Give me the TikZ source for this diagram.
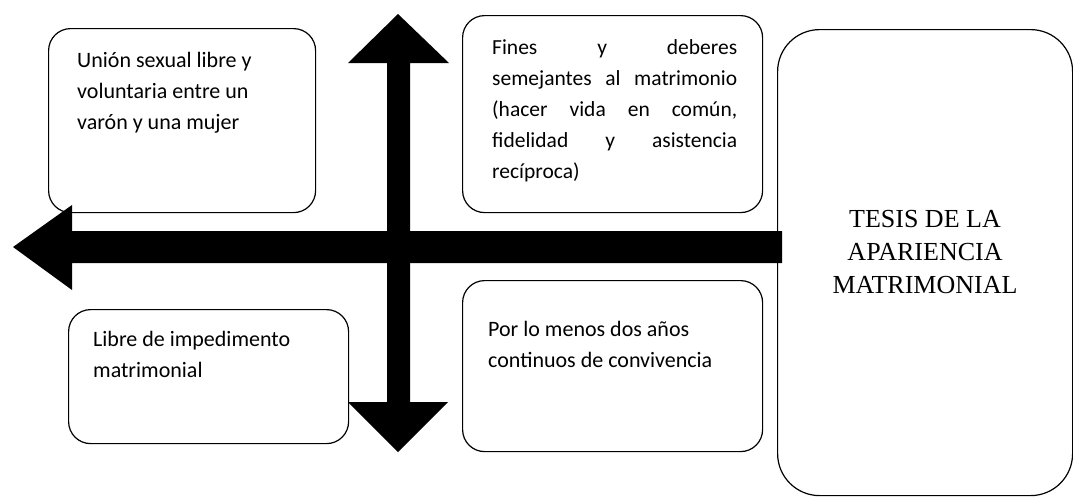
\documentclass[tikz,border=0pt]{standalone}
\usepackage{fontspec}
\setmainfont{Carlito}
\newfontfamily\tesisfont{Liberation Serif}
\usetikzlibrary{positioning}

\tikzset{
  caja/.style={draw, line width=1.2pt, rounded corners=22pt, inner sep=0pt, anchor=north west},
  texto/.style={inner sep=0pt, align=left, font=\fontsize{22}{31}\selectfont},
}

\begin{document}
\begin{tikzpicture}[x=1pt,y=-1pt]
  \useasboundingbox (0,0) rectangle (1073,496);
  % cajas
  \node[caja, minimum width=267pt, minimum height=184pt] (union) at (48,28) {};
  \node[caja, minimum width=280pt, minimum height=134pt] (libre) at (68,309) {};
  \node[caja, minimum width=300pt, minimum height=197pt] (fines) at (462,15) {};
  \node[caja, minimum width=300pt, minimum height=171pt] (convivencia) at (462,280) {};
  \node[caja, rounded corners=42pt, minimum width=295pt, minimum height=466pt] (tesis) at (777,29) {};

  % textos
  \node[texto, below right=24pt and 29pt of union.north west] (uniontxt)
    {Unión sexual libre y\\ voluntaria entre un\\ varón y una mujer};
  \node[texto, below right=22pt and 25pt of libre.north west] (libretxt)
    {Libre de impedimento\\ matrimonial};
  \node[texto, font=\fontsize{21.5}{31}\selectfont, align=justify, text width=245pt,
    below right=24pt and 30pt of fines.north west] (finestxt)
    {Fines y deberes\linebreak semejantes al matrimonio\linebreak (hacer vida en común,\linebreak fidelidad y asistencia\linebreak recíproca)};
  \node[texto, below right=41pt and 26pt of convivencia.north west] (convivenciatxt)
    {Por lo menos dos años\\ continuos de convivencia};
  \node[font=\tesisfont\fontsize{26}{33}\selectfont, align=center] (tesistxt) at (925,252)
    {TESIS DE LA\\ APARIENCIA\\ MATRIMONIAL};

  % flechas
  \fill (13,247) -- (72,205) -- (72,231) -- (782,231) -- (782,263) -- (72,263) -- (72,290) -- cycle;
  \fill (398,14) -- (449,63) -- (410,63) -- (410,402) -- (448,402) -- (398,452)
    -- (348,402) -- (387,402) -- (387,63) -- (348,63) -- cycle;
\end{tikzpicture}
\end{document}
